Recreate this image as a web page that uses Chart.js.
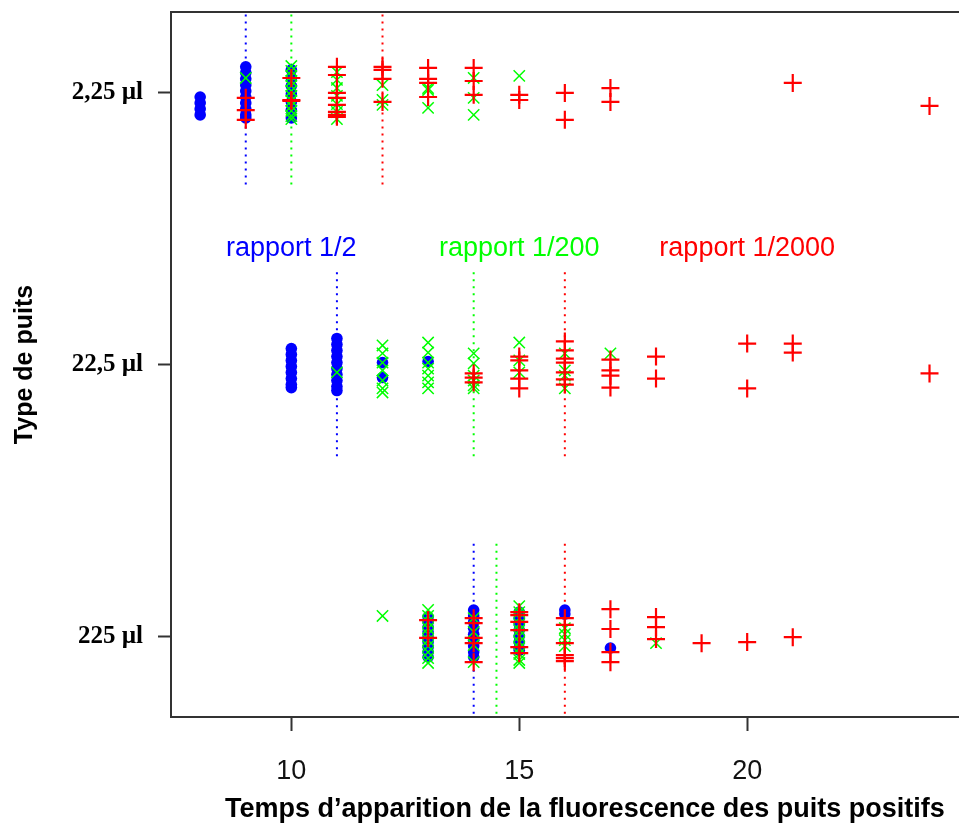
<!DOCTYPE html>
<html>
<head>
<meta charset="utf-8">
<script src="https://cdn.jsdelivr.net/npm/chart.js@4.4.1/dist/chart.umd.min.js"></script>
<style>
  html, body { margin: 0; padding: 0; overflow: hidden; background: #fff; }
  canvas { display: block; }
</style>
</head>
<body>
<canvas id="plot" width="1010" height="832"></canvas>
<script>
// axis setup
const xTicks = [10, 15, 20];
const yLevels = [3, 2, 1];
const yLabels = ["2,25 \u00b5l", "22,5 \u00b5l", "225 \u00b5l"];

// rapport 1/2 (blue dots) — x = time, y = level + jitter
const blueX = [
  8, 8, 8, 8,
  9, 9, 9, 9, 9, 9, 9, 9, 9, 9,
  10, 10, 10, 10, 10, 10, 10,
  10, 10, 10, 10, 10, 10, 10, 10,
  11, 11, 11, 11, 11, 11, 11, 11, 11, 11,
  12, 12, 13,
  13, 13, 13, 13, 13, 13, 13, 13, 13,
  14, 14, 14, 14, 14, 14, 14, 14, 14,
  15, 15, 15, 15, 15, 15, 15, 15,
  16, 16, 17
];
const blueY = [
  2.985, 2.963, 2.941, 2.919,
  3.096, 3.074, 3.052, 3.029, 3.007, 2.985, 2.963, 2.941, 2.919, 2.908,
  3.085, 3.055, 3.026, 2.996, 2.967, 2.937, 2.908,
  2.059, 2.037, 2.015, 1.993, 1.971, 1.948, 1.926, 1.915,
  2.096, 2.074, 2.052, 2.029, 2.007, 1.985, 1.963, 1.941, 1.919, 1.904,
  2.007, 1.952, 2.011,
  1.070, 1.052, 1.033, 1.015, 0.996, 0.978, 0.959, 0.941, 0.923,
  1.096, 1.074, 1.052, 1.029, 1.007, 0.985, 0.963, 0.941, 0.923,
  1.088, 1.066, 1.044, 1.022, 1.000, 0.978, 0.956, 0.948,
  1.096, 1.081, 0.956
];

// rapport 1/200 (green x)
const greenX = [
  9,
  10, 10, 10, 10, 10, 10, 10, 10, 10, 10, 10, 10,
  11, 11, 11, 11, 11, 11, 11,
  12, 12, 12, 13, 13, 13, 14, 14, 14, 15,
  11,
  12, 12, 12, 12, 12, 12, 12,
  13, 13, 13, 13, 13, 13, 13,
  14, 14, 14, 14, 14, 14,
  15, 15, 15, 16, 16, 16, 16, 17,
  12,
  13, 13, 13, 13, 13, 13, 13, 13, 13, 13,
  14, 14, 14, 14,
  15, 15, 15, 15, 15, 15, 15, 15, 15, 15, 15,
  16, 16, 16, 16, 18
];
const greenY = [
  3.055,
  3.099, 3.081, 3.063, 3.044, 3.026, 3.007, 2.989, 2.971, 2.952, 2.934, 2.915, 2.904,
  3.077, 3.048, 3.018, 2.989, 2.959, 2.930, 2.904,
  3.029, 2.974, 2.956, 3.018, 3.011, 2.945, 3.055, 2.982, 2.919, 3.063,
  1.971,
  2.070, 2.041, 2.007, 1.978, 1.941, 1.912, 1.897,
  2.081, 2.044, 2.007, 1.985, 1.959, 1.934, 1.912,
  2.041, 2.004, 1.959, 1.941, 1.923, 1.912,
  2.081, 2.015, 1.971, 2.041, 1.978, 1.959, 1.912, 2.041,
  1.074,
  1.096, 1.074, 1.052, 1.029, 1.007, 0.985, 0.963, 0.941, 0.919, 0.901,
  1.066, 1.015, 0.967, 0.904,
  1.110, 1.088, 1.066, 1.044, 1.022, 1.000, 0.978, 0.956, 0.934, 0.912, 0.901,
  1.029, 1.007, 0.985, 0.963, 0.974
];

// rapport 1/2000 (red +)
const redX = [
  9, 9, 9, 10, 10, 10,
  11, 11, 11, 11, 11, 11, 11, 11,
  12, 12, 12, 12, 13, 13, 13, 13, 14, 14, 14,
  15, 15, 16, 16, 17, 17, 21, 24,
  14, 14, 14, 15, 15, 15, 15, 15,
  16, 16, 16, 16, 16, 16, 16,
  17, 17, 17, 17, 18, 18, 20, 20, 21, 21, 24,
  13, 13, 14, 14, 14, 14, 14,
  15, 15, 15, 15, 15, 15,
  16, 16, 16, 16, 16, 16,
  17, 17, 17, 17, 18, 18, 18, 19, 20, 21
];
const redY = [
  2.982, 2.937, 2.901, 3.055, 2.974, 2.971,
  3.096, 3.066, 3.000, 2.982, 2.956, 2.930, 2.919, 2.912,
  3.096, 3.085, 3.052, 2.967, 3.092, 3.052, 3.037, 2.985, 3.092, 3.044, 2.993,
  2.993, 2.974, 3.000, 2.901, 3.018, 2.967, 3.037, 2.952,
  1.967, 1.952, 1.934, 2.029, 2.015, 1.978, 1.948, 1.912,
  2.085, 2.052, 2.022, 2.007, 1.971, 1.945, 1.926,
  2.018, 1.978, 1.959, 1.915, 2.029, 1.948, 2.077, 1.912, 2.077, 2.044, 1.967,
  1.059, 0.993, 1.066, 1.048, 0.993, 0.974, 0.904,
  1.088, 1.077, 1.052, 1.022, 0.959, 0.937,
  1.066, 1.041, 0.974, 0.930, 0.919, 0.908,
  1.099, 1.026, 0.941, 0.904, 1.070, 1.033, 0.989, 0.974, 0.978, 0.996
];

// medians (dotted verticals), one per level: 2,25 / 22,5 / 225
const blueMedian = [9, 11, 14];
const greenMedian = [10, 14, 14.5];
const redMedian = [12, 16, 16];

// text labels inside the plot
const labelTexts = ["rapport 1/2", "rapport 1/200", "rapport 1/2000"];
const labelX = [10, 15, 20];
const labelY = [2.40, 2.40, 2.40];
const colors = ["#0000ff", "#00ff00", "#ff0000"];

Chart.defaults.font.family = "Arial, 'Liberation Sans', sans-serif";

const pts = (xs, ys) => xs.map((x, i) => ({ x, y: ys[i] }));

const medianSets = [];
[blueMedian, greenMedian, redMedian].forEach((arr, c) => {
  arr.forEach((m, i) => {
    medianSets.push({
      data: [{ x: m, y: yLevels[i] + 0.34 }, { x: m, y: yLevels[i] - 0.35 }],
      showLine: true,
      borderColor: colors[c],
      borderWidth: 2,
      borderDash: [2, 5],
      pointRadius: 0
    });
  });
});

const frame = {
  id: "frame",
  afterDraw(chart) {
    const { ctx, chartArea } = chart;
    ctx.save();
    ctx.strokeStyle = "#333";
    ctx.lineWidth = 2;
    ctx.beginPath();
    ctx.moveTo(chartArea.left, chartArea.top);
    ctx.lineTo(chartArea.right, chartArea.top);
    ctx.stroke();
    ctx.restore();
  }
};

const textLabels = {
  id: "textLabels",
  afterDatasetsDraw(chart) {
    const { ctx, scales } = chart;
    ctx.save();
    ctx.font = "27px Arial, 'Liberation Sans', sans-serif";
    ctx.textAlign = "center";
    ctx.textBaseline = "alphabetic";
    labelTexts.forEach((t, i) => {
      ctx.fillStyle = colors[i];
      ctx.fillText(t, scales.x.getPixelForValue(labelX[i]), scales.y.getPixelForValue(labelY[i]));
    });
    ctx.restore();
  }
};

new Chart(document.getElementById("plot"), {
  type: "scatter",
  data: {
    datasets: [
      { label: "rapport 1/2000", data: pts(redX, redY), pointStyle: "cross", pointRadius: 9,
        pointBorderColor: colors[2], pointBorderWidth: 2.2, pointBackgroundColor: colors[2] },
      { label: "rapport 1/200", data: pts(greenX, greenY), pointStyle: "crossRot", pointRadius: 8,
        pointBorderColor: colors[1], pointBorderWidth: 1.5, pointBackgroundColor: colors[1] },
      { label: "rapport 1/2", data: pts(blueX, blueY), pointStyle: "circle", pointRadius: 5.8,
        pointBorderWidth: 0, pointBackgroundColor: colors[0], pointBorderColor: colors[0] },
      ...medianSets
    ]
  },
  options: {
    responsive: false,
    animation: false,
    events: [],
    layout: { padding: { top: 12, left: 0, right: 0, bottom: 0 } },
    plugins: { legend: { display: false }, tooltip: { enabled: false } },
    scales: {
      x: {
        type: "linear",
        min: 7.36,
        max: 25.52,
        afterBuildTicks: s => { s.ticks = xTicks.map(v => ({ value: v })); },
        afterFit: s => { s.height = 115; s.paddingLeft = 0; s.paddingRight = 0; },
        ticks: { font: { size: 27 }, color: "#111", padding: 24, maxRotation: 0, autoSkip: false },
        grid: { drawOnChartArea: false, drawTicks: true, tickLength: 14, tickWidth: 2, color: "#333" },
        border: { display: true, color: "#333", width: 2 },
        title: {
          display: true,
          text: "Temps d\u2019apparition de la fluorescence des puits positifs",
          font: { size: 27, weight: "bold" },
          color: "#000",
          padding: { top: 0, bottom: 6 }
        }
      },
      y: {
        type: "linear",
        min: 0.702,
        max: 3.298,
        afterBuildTicks: s => { s.ticks = yLevels.map(v => ({ value: v })); },
        afterFit: s => { s.width = 171; s.paddingTop = 0; s.paddingBottom = 0; },
        ticks: {
          callback: v => yLabels[yLevels.indexOf(v)],
          font: { family: "'Liberation Serif', 'Times New Roman', serif", size: 25, weight: "bold" },
          color: "#000",
          padding: 15,
          autoSkip: false
        },
        grid: { drawOnChartArea: false, drawTicks: true, tickLength: 13, tickWidth: 2, color: "#333" },
        border: { display: true, color: "#333", width: 2 },
        title: {
          display: true,
          text: "Type de puits",
          font: { size: 25, weight: "bold" },
          color: "#000",
          padding: { top: 10, bottom: 0 }
        }
      }
    }
  },
  plugins: [frame, textLabels]
});
</script>
</body>
</html>
